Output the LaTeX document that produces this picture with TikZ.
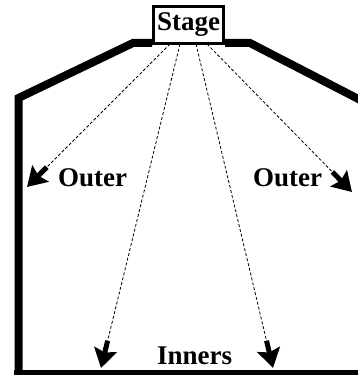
\documentclass[tikz,border=0pt]{standalone}
\usepackage{fontspec}
\setmainfont{Liberation Serif}
\usetikzlibrary{arrows.meta,calc}
\tikzset{
  wall/.style={line width=8pt, line join=miter},
  floor/.style={line width=5pt},
  stagebox/.style={draw, line width=3.5pt, minimum width=70pt, minimum height=37pt, inner sep=0pt, font=\fontsize{27}{30}\selectfont\bfseries},
  lbl/.style={inner sep=0pt, font=\fontsize{27}{30}\selectfont\bfseries},
  ray/.style={line width=0.8pt, dash pattern=on 3pt off 2pt},
  head/.style={line width=5pt, -{Stealth[length=19pt,width=23pt,inset=3pt]}},
}
\begin{document}
\begin{tikzpicture}[x=1pt,y=1pt]
\useasboundingbox (0,0) rectangle (357,375);
% outline
\draw[wall] (18.5,-5) -- (18.5,277) -- (133,332) -- (152,332);
\draw[wall] (225,332) -- (250,332) -- (370,270);
\draw[floor] (14,2.5) -- (365,2.5);
% stage
\node[stagebox] (stage) at (188.5,350) {Stage};
% labels
\node[lbl, anchor=base west] (outl) at (58,188) {Outer};
\node[lbl, anchor=base west] (outr) at (253,188) {Outer};
\node[lbl, anchor=base west] (inn) at (157,10) {Inners};
% ray ends
\coordinate (s1) at (170,331);
\coordinate (s2) at (180,331);
\coordinate (s3) at (196,331);
\coordinate (s4) at (207,331);
\coordinate (t1) at (27,188);
\coordinate (t2) at (101,7);
\coordinate (t3) at (273,7);
\coordinate (t4) at (352,183);
\foreach \s/\t in {s1/t1,s2/t2,s3/t3,s4/t4}{
  \draw[ray] (\s) -- ($(\t)!26pt!(\s)$);
  \draw[head] ($(\t)!28pt!(\s)$) -- (\t);
}
\end{tikzpicture}
\end{document}
